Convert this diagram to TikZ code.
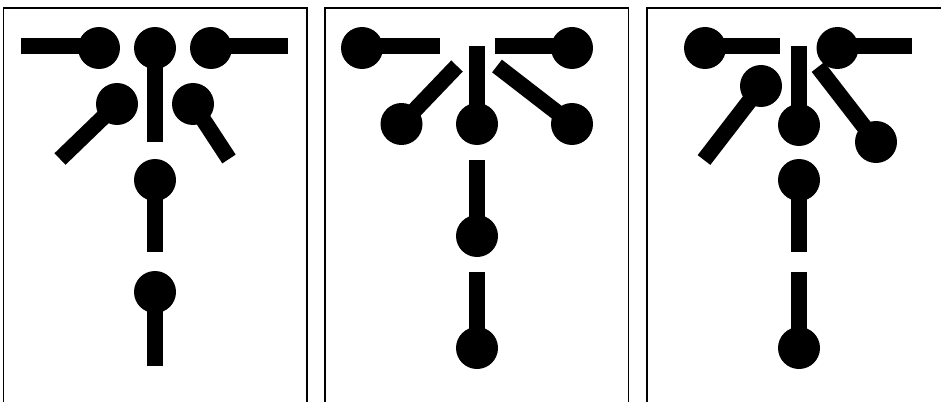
\documentclass[tikz,border=0pt]{standalone}
\begin{document}
\begin{tikzpicture}[x=1pt,y=-1pt,
  ball/.style={circle,fill=black,draw=none,inner sep=0pt,minimum size=42pt},
  stick/.style={line width=16pt,black,line cap=butt},
  frame/.style={line width=1.5pt,black}]
\useasboundingbox (0,0) rectangle (941,401);
\clip (0,0) rectangle (941,401);
% frames
\draw[frame] (3.5,8) rectangle (307,420);
\draw[frame] (325,8) rectangle (628.5,420);
\draw[frame] (647,8) rectangle (960,420);
% ---------- panel 1 ----------
\node[ball] (a1) at (99,48) {};
\node[ball] (a2) at (155,48) {};
\node[ball] (a3) at (211,48) {};
\node[ball] (a4) at (117,104) {};
\node[ball] (a5) at (193,104) {};
\node[ball] (a6) at (155,180) {};
\node[ball] (a7) at (155,292) {};
\coordinate (e1) at (21,46);
\coordinate (f1) at (99,46);
\coordinate (e3) at (288,46);
\coordinate (f3) at (211,46);
\coordinate (e2) at (155,142);
\coordinate (e4) at (60,159);
\coordinate (e5) at (229,159);
\coordinate (e6) at (155,252);
\coordinate (e7) at (155,366);
\draw[stick] (e1) -- (f1);
\draw[stick] (f3) -- (e3);
\draw[stick] (a2.center) -- (e2);
\draw[stick] (a4.center) -- (e4);
\draw[stick] (a5.center) -- (e5);
\draw[stick] (a6.center) -- (e6);
\draw[stick] (a7.center) -- (e7);
% ---------- panel 2 ----------
\node[ball] (b1) at (362,48) {};
\node[ball] (b2) at (477,124) {};
\node[ball] (b3) at (572,48) {};
\node[ball] (b4) at (401.5,124) {};
\node[ball] (b5) at (572,124) {};
\node[ball] (b6) at (477,236) {};
\node[ball] (b7) at (477,348) {};
\coordinate (g1) at (362,46);
\coordinate (h1) at (440,46);
\coordinate (g3) at (572,46);
\coordinate (h3) at (495,46);
\coordinate (h2) at (477,46);
\coordinate (h4) at (457,66);
\coordinate (h5) at (497,66);
\coordinate (h6) at (477,160);
\coordinate (h7) at (477,272);
\draw[stick] (g1) -- (h1);
\draw[stick] (g3) -- (h3);
\draw[stick] (b2.center) -- (h2);
\draw[stick] (b4.center) -- (h4);
\draw[stick] (b5.center) -- (h5);
\draw[stick] (b6.center) -- (h6);
\draw[stick] (b7.center) -- (h7);
% ---------- panel 3 ----------
\node[ball] (c1) at (705,48) {};
\node[ball] (c2) at (799,125) {};
\node[ball] (c3) at (837.5,48) {};
\node[ball] (c4) at (761,86) {};
\node[ball] (c5) at (876,142) {};
\node[ball] (c6) at (799,180) {};
\node[ball] (c7) at (799,348) {};
\coordinate (k1) at (705,46);
\coordinate (m1) at (780,46);
\coordinate (k3) at (837.5,46);
\coordinate (m3) at (912,46);
\coordinate (m2) at (799,46);
\coordinate (m4) at (704,160);
\coordinate (m5) at (818,67);
\coordinate (m6) at (799,252);
\coordinate (m7) at (799,272);
\draw[stick] (k1) -- (m1);
\draw[stick] (k3) -- (m3);
\draw[stick] (c2.center) -- (m2);
\draw[stick] (c4.center) -- (m4);
\draw[stick] (c5.center) -- (m5);
\draw[stick] (c6.center) -- (m6);
\draw[stick] (c7.center) -- (m7);
\end{tikzpicture}
\end{document}
